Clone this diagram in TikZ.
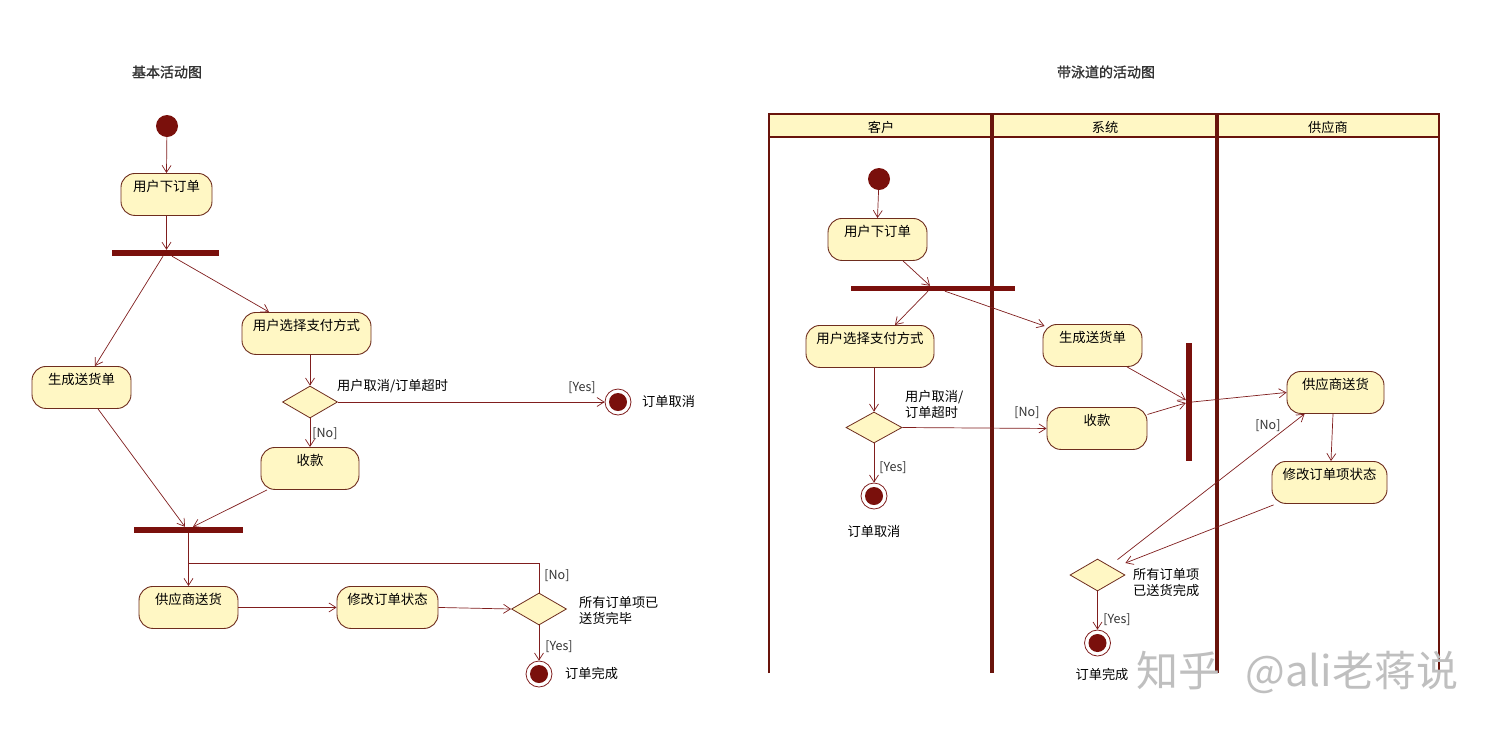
\documentclass[tikz,border=0pt]{standalone}
\usepackage{fontspec}
\setmainfont{Noto Sans CJK SC}
\newfontfamily\titlefont[FakeBold=1.2]{Noto Sans CJK SC}
\usetikzlibrary{arrows.meta,shapes.geometric,calc}
\definecolor{lnred}{RGB}{128,30,30}
\definecolor{barred}{RGB}{122,16,12}
\definecolor{actfill}{RGB}{255,247,196}
\definecolor{actborder}{RGB}{110,45,30}
\definecolor{lanebrown}{RGB}{105,20,12}
\tikzset{
  act/.style={draw=actborder, line width=0.9pt, fill=actfill, rounded corners=14pt,
    inner xsep=0pt, inner ysep=0pt, text height=18pt, text depth=24pt,
    font=\fontsize{13.4}{16}\selectfont, anchor=north},
  dec/.style={diamond, draw=actborder, fill=actfill, line width=0.8pt, inner sep=0pt,
    minimum width=55pt, minimum height=32pt},
  startnode/.style={circle, fill=barred, inner sep=0pt, minimum size=22pt},
  endnode/.style={circle, draw=lnred, fill=white, line width=0.8pt, inner sep=0pt,
    minimum size=26pt, path picture={\fill[barred] (path picture bounding box.center) circle (9pt);}},
  barnode/.style={fill=barred, inner sep=0pt},
  flow/.style={draw=lnred, line width=0.7pt, -{Straight Barb[length=7pt,width=9pt]}},
  plainline/.style={draw=lnred, line width=0.7pt},
  lbl/.style={font=\fontsize{13.2}{16}\selectfont, inner sep=0pt, align=left},
  guard/.style={font=\fontsize{12.5}{14}\selectfont, inner sep=0pt, text=black!80},
  titlestyle/.style={font=\titlefont\fontsize{14}{16}\selectfont, inner sep=0pt, text=black!80},
  lanehead/.style={font=\fontsize{13.2}{16}\selectfont, inner sep=0pt}
}
\begin{document}
\begin{tikzpicture}[x=1pt,y=-1pt]
\useasboundingbox (0,0) rectangle (1500,732);
\fill[white] (0,0) rectangle (1500,732);

% ---------------- Left: basic activity diagram ----------------
\node[titlestyle] (title1) at (167,72) {基本活动图};
\node[startnode] (s1) at (167,126) {};
\node[act, minimum width=91pt] (a1) at (166.5,173) {用户下订单};
\node[barnode, minimum width=107pt, minimum height=6pt] (fork1) at (165.5,253) {};
\node[act, minimum width=129pt] (a2) at (306.5,312) {用户选择支付方式};
\node[act, minimum width=99pt] (a3) at (81.5,366) {生成送货单};
\node[dec] (d1) at (310,402) {};
\node[endnode] (e1) at (618,402) {};
\node[act, minimum width=98pt] (a4) at (310,447) {收款};
\node[barnode, minimum width=109pt, minimum height=6pt] (join1) at (188.5,530) {};
\node[act, minimum width=99pt] (a5) at (188.5,586) {供应商送货};
\node[act, minimum width=101pt] (a6) at (387.5,586) {修改订单状态};
\node[dec] (d2) at (539,609) {};
\node[endnode] (e2) at (539,674) {};
\coordinate (m1) at (188.5,563);

\draw[flow] (s1) -- (a1.north);
\draw[flow] (a1.south) -- (a1.south |- fork1.north);
\draw[flow] ($(fork1.south)+(-2.5,0)$) -- ($(a3.north)+(13.5,0)$);
\draw[flow] ($(fork1.south)+(6.5,0)$) -- ($(a2.north)+(-37.5,0)$);
\draw[flow] (a2.south -| d1.north) -- (d1.north);
\draw[flow] (d1.east) -- (e1.west);
\draw[flow] (d1.south) -- (a4.north);
\draw[flow] ($(a3.south)+(16.5,0)$) -- ($(join1.north)+(-3.5,0)$);
\draw[flow] ($(a4.south)+(-43,0)$) -- ($(join1.north)+(4.5,0)$);
\draw[flow] (join1.south) -- (a5.north);
\draw[flow] (a5.east) -- (a6.west);
\draw[flow] (a6.east) -- (d2.west);
\draw[plainline] (d2.north) |- (m1);
\draw[flow] (d2.south) -- (e2.north);

\node[lbl, anchor=west] (c1) at (337,386) {用户取消/订单超时};
\node[guard] (y1) at (582,388) {[Yes]};
\node[lbl, anchor=west] (x1) at (642,401) {订单取消};
\node[guard] (n1) at (325,434) {[No]};
\node[guard] (n2) at (557,576) {[No]};
\node[lbl, anchor=west] (c2) at (579,610) {所有订单项已\\送货完毕};
\node[guard] (y2) at (559,647) {[Yes]};
\node[lbl, anchor=west] (x2) at (565,673) {订单完成};

% ---------------- Right: swimlane activity diagram ----------------
\node[titlestyle] (title2) at (1106,72) {带泳道的活动图};
\fill[actfill] (769,114) rectangle (1439,137);
\draw[lanebrown, line width=1.8pt] (769,673) -- (769,114) -- (1439,114) -- (1439,673);
\draw[lanebrown, line width=1.6pt] (769,137) -- (1439,137);
\draw[lanebrown, line width=4.5pt] (992,114) -- (992,673);
\draw[lanebrown, line width=4.5pt] (1217,114) -- (1217,673);
\node[lanehead] (h1) at (881,127) {客户};
\node[lanehead] (h2) at (1105,127) {系统};
\node[lanehead] (h3) at (1328,127) {供应商};

\node[startnode] (s2) at (879,179) {};
\node[act, minimum width=99pt] (b1) at (877.5,218) {用户下订单};
\node[barnode, minimum width=164pt, minimum height=5pt] (fork2) at (933,288.5) {};
\node[act, minimum width=128pt] (b2) at (870,325) {用户选择支付方式};
\node[act, minimum width=99pt] (b3) at (1092.5,324) {生成送货单};
\node[dec, minimum width=56pt, minimum height=31pt] (d3) at (874,427.5) {};
\node[act, minimum width=100pt] (b4) at (1097,407) {收款};
\node[endnode] (e3) at (874,496) {};
\node[barnode, minimum width=6pt, minimum height=118pt] (join2) at (1189,402) {};
\node[act, minimum width=97pt] (b5) at (1335.5,371) {供应商送货};
\node[act, minimum width=115pt] (b6) at (1329.5,461) {修改订单项状态};
\node[dec] (d4) at (1097.5,575) {};
\node[endnode] (e4) at (1097.5,643) {};

\draw[flow] (s2) -- (b1.north);
\draw[flow] ($(b1.south)+(25.5,0)$) -- ($(fork2.north)+(-3,0)$);
\draw[flow] ($(fork2.south)+(-5,0)$) -- ($(b2.north)+(25,0)$);
\draw[flow] ($(fork2.south)+(12,0)$) -- ($(b3.north west)+(2,2)$);
\draw[flow] (b2.south -| d3.north) -- (d3.north);
\draw[flow] (d3.east) -- (b4.west);
\draw[flow] (d3.south) -- (e3.north);
\draw[flow] ($(b3.south)+(34.5,0)$) -- ($(join2.west)+(0,-2)$);
\draw[flow] ($(b4.east)+(0,-14)$) -- ($(join2.west)+(0,1)$);
\draw[flow] (join2.east) -- (b5.west);
\draw[flow] ($(b5.south)+(-2.5,0)$) -- ($(b6.north)+(1.5,0)$);
\draw[flow] ($(b6.south west)+(2,1)$) -- ($(d4.east)+(0,-12)$);
\draw[flow] ($(d4.north)+(20,1)$) -- ($(b5.south west)+(18,0)$);
\draw[flow] (d4.south) -- (e4.north);

\node[lbl, anchor=west] (c3) at (905,404) {用户取消/\\订单超时};
\node[guard] (n3) at (1027,413) {[No]};
\node[guard] (y3) at (893,468) {[Yes]};
\node[lbl] (x3) at (874,531) {订单取消};
\node[guard] (n4) at (1268,426) {[No]};
\node[lbl, anchor=west] (c4) at (1133,583) {所有订单项\\已送货完成};
\node[guard] (y4) at (1117,620) {[Yes]};
\node[lbl] (x4) at (1102,674) {订单完成};

% watermark
\node[anchor=west, inner sep=0pt, text=gray!50, font=\fontsize{42}{46}\selectfont] (wm) at (1136,672) {知乎\hspace{0.6em}@ali老蒋说};
\end{tikzpicture}
\end{document}
